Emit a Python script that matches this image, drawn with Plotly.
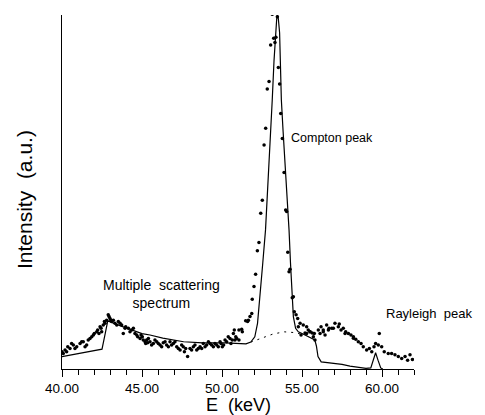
import plotly.graph_objects as go

# Measured data points (E in keV, intensity in a.u. scaled so peak ~100)
data_E = [40.0, 40.08, 40.19, 40.29, 40.36, 40.5, 40.6, 40.71, 40.81, 40.92, 41.13, 41.23, 41.33, 41.44,
          41.54, 41.64, 41.75, 41.86, 41.96, 42.02, 42.17, 42.23, 42.31, 42.38, 42.44, 42.48, 42.58, 42.65,
          42.69, 42.79, 42.89, 42.94, 43.0, 43.06, 43.1, 43.21, 43.31, 43.42, 43.52, 43.63, 43.73, 43.83,
          43.94, 43.98, 44.15, 44.25, 44.35, 44.46, 44.56, 44.67, 44.73, 44.88, 44.94, 45.02, 45.08, 45.19,
          45.23, 45.29, 45.35, 45.4, 45.5, 45.6, 45.71, 45.81, 45.92, 46.02, 46.13, 46.23, 46.33, 46.44,
          46.54, 46.65, 46.75, 46.85, 46.96, 47.06, 47.17, 47.27, 47.38, 47.48, 47.58, 47.65, 47.73, 47.85,
          48.0, 48.1, 48.21, 48.31, 48.42, 48.52, 48.63, 48.73, 48.83, 48.94, 49.04, 49.15, 49.25, 49.35,
          49.46, 49.56, 49.67, 49.77, 49.88, 49.94, 50.02, 50.1, 50.19, 50.29, 50.39, 50.5, 50.56, 50.64,
          50.71, 50.77, 50.81, 50.86, 50.92, 51.06, 51.06, 51.23, 51.27, 51.48, 51.6, 51.65, 51.75, 51.86,
          51.89, 52.0, 52.1, 52.21, 52.31, 52.42, 52.52, 52.63, 52.73, 52.83, 52.94, 53.04, 53.14, 53.23,
          53.31, 53.37, 53.46, 53.52, 53.6, 53.67, 53.77, 53.88, 53.98, 54.04, 54.11, 54.19, 54.25, 54.39,
          54.46, 54.52, 54.63, 54.73, 54.77, 54.88, 54.94, 55.08, 55.19, 55.29, 55.29, 55.39, 55.5, 55.5,
          55.64, 55.71, 55.77, 55.81, 56.02, 56.13, 56.19, 56.33, 56.33, 56.44, 56.54, 56.65, 56.69, 56.86,
          56.96, 57.06, 57.27, 57.33, 57.44, 57.58, 57.69, 57.73, 57.9, 58.06, 58.21, 58.21, 58.36, 58.52,
          58.69, 58.83, 59.04, 59.21, 59.36, 59.5, 59.6, 59.77, 59.83, 59.98, 60.14, 60.39, 60.6, 60.81,
          61.02, 61.23, 61.44, 61.6, 61.75, 61.9]
data_I = [4.9, 4.4, 5.4, 4.9, 6.3, 5.8, 7.2, 6.8, 5.8, 6.3, 7.2, 7.7, 7.7, 6.3,
          6.8, 8.2, 8.6, 9.1, 9.6, 10.0, 10.5, 11.0, 10.0, 11.9, 11.5, 10.5, 12.4, 13.4,
          12.9, 13.8, 15.3, 14.8, 14.3, 13.8, 13.4, 13.8, 12.9, 12.4, 13.4, 12.9, 12.4, 10.0,
          11.5, 11.9, 11.5, 10.5, 11.0, 11.5, 10.0, 9.6, 9.1, 8.6, 9.6, 9.1, 8.2, 7.7,
          7.2, 8.2, 7.4, 8.6, 7.7, 6.8, 7.2, 8.2, 7.7, 7.2, 6.8, 6.3, 7.4, 7.7,
          6.8, 6.3, 7.7, 6.8, 7.2, 7.7, 6.3, 5.8, 5.4, 6.8, 6.3, 4.9, 5.8, 3.5,
          5.8, 5.4, 6.3, 6.8, 5.4, 5.8, 6.3, 5.8, 7.2, 6.3, 6.8, 7.7, 7.2, 6.8,
          6.3, 7.2, 6.8, 6.3, 7.7, 7.2, 6.3, 6.8, 8.2, 7.7, 9.1, 8.6, 7.2, 8.2,
          10.0, 11.0, 8.2, 9.1, 8.6, 11.0, 8.2, 11.2, 10.5, 13.6, 13.4, 13.8, 14.8, 15.7,
          19.7, 23.3, 26.8, 33.4, 35.7, 44.0, 47.7, 63.3, 68.0, 79.1, 81.2, 91.5, 100.2, 93.4,
          92.2, 93.7, 99.5, 85.2, 80.5, 72.2, 65.1, 55.5, 44.9, 44.5, 33.0, 27.5, 28.2, 20.1,
          20.4, 16.2, 15.3, 14.3, 11.9, 12.9, 9.6, 12.4, 10.2, 11.9, 10.0, 11.0, 10.5, 10.5,
          10.2, 9.1, 10.0, 8.2, 11.0, 10.0, 11.9, 10.5, 11.0, 9.6, 12.4, 11.0, 11.5, 11.5,
          11.5, 12.9, 11.9, 12.7, 11.0, 11.5, 10.0, 10.5, 10.0, 9.6, 9.1, 8.7, 8.4, 7.7,
          7.2, 6.3, 5.4, 5.8, 4.9, 6.3, 7.2, 6.8, 10.0, 6.3, 4.9, 4.4, 4.4, 4.0,
          3.5, 3.0, 3.5, 2.5, 4.0, 2.7]

# Fitted model (solid line)
fit_E = [40.0, 42.5, 42.7, 42.8, 42.86, 43.7, 45.0, 45.5, 46.3, 47.6, 48.8, 50.2, 51.0, 51.5, 51.8,
         52.05, 52.22, 52.38, 52.55, 52.72, 52.85, 52.96, 53.05, 53.14, 53.25, 53.35, 53.42, 53.46,
         53.52, 53.6, 53.66, 53.71, 53.82, 53.94, 54.05, 54.19, 54.28, 54.36, 54.46, 54.6, 54.77,
         55.19, 55.8, 55.9, 56.0, 56.2, 56.75, 57.5, 58.0, 59.0, 59.3, 59.45, 59.6, 59.75, 59.92, 60.05]
fit_I = [3.5, 5.6, 10.0, 12.9, 13.6, 12.1, 10.0, 9.6, 8.7, 7.7, 7.4, 7.4, 7.1, 7.1, 7.6,
         9.1, 12.9, 22.3, 30.0, 39.3, 50.0, 59.0, 67.0, 76.0, 87.0, 95.0, 99.0, 100.0,
         99.0, 95.0, 86.0, 76.0, 67.0, 59.0, 50.0, 39.3, 30.0, 22.3, 14.8, 11.5, 10.5,
         9.6, 8.2, 6.5, 3.5, 2.0, 1.7, 1.3, 0.8, 0.2, 0.3, 2.5, 4.6, 2.5, 0.3, 0.0]

# Background under the Compton peak (dashed)
bg_E = [51.8, 52.5, 53.2, 53.9, 54.5, 55.19]
bg_I = [7.6, 8.8, 9.9, 10.5, 10.3, 9.6]

x_ticks = [40, 45, 50, 55, 60]
x_tick_text = ["40.00", "45.00", "50.00", "55.00", "60.00"]

FONT = "Liberation Sans"

fig = go.Figure()
fig.add_trace(go.Scatter(x=fit_E, y=fit_I, mode="lines",
                         line=dict(color="black", width=1.2), hoverinfo="skip"))
fig.add_trace(go.Scatter(x=bg_E, y=bg_I, mode="lines",
                         line=dict(color="black", width=1, dash="2px,5px"), hoverinfo="skip"))
fig.add_trace(go.Scatter(x=data_E, y=data_I, mode="markers",
                         marker=dict(color="black", size=3.5), hoverinfo="skip"))

# page body has an 8px margin, so offset plot margins accordingly
fig.update_layout(
    width=485, height=415,
    margin=dict(l=54, r=79, t=7, b=54),
    plot_bgcolor="white", paper_bgcolor="white",
    showlegend=False,
    font=dict(family=FONT, color="black"),
    xaxis=dict(range=[40, 62], showgrid=False, zeroline=False,
               showline=True, linecolor="black", linewidth=1,
               tickmode="array", tickvals=x_ticks, ticktext=x_tick_text,
               ticks="outside", ticklen=7, tickcolor="black",
               tickfont=dict(size=13.5, family=FONT),
               minor=dict(dtick=1, ticks="outside", ticklen=5, tickcolor="black")),
    yaxis=dict(range=[0, 100], showgrid=False, zeroline=False,
               showline=True, linecolor="black", linewidth=1,
               showticklabels=False, ticks=""),
)

fig.add_annotation(x=54.2, y=65.3, xref="x", yref="y", text="Compton peak", showarrow=False,
                   xanchor="left", yanchor="middle", font=dict(size=12.5, family=FONT))
fig.add_annotation(x=46.2, y=21.2, xref="x", yref="y", text="Multiple  scattering<br>spectrum",
                   showarrow=False, xanchor="center", yanchor="middle",
                   font=dict(size=14, family=FONT))
fig.add_annotation(x=60.1, y=15.8, xref="x", yref="y", text="Rayleigh  peak", showarrow=False,
                   xanchor="left", yanchor="middle", font=dict(size=13, family=FONT))
fig.add_annotation(x=(238 - 62) / 352, y=-(404.5 - 369) / 354, xref="paper", yref="paper",
                   text="E  (keV)", showarrow=False, xanchor="center", yanchor="middle",
                   font=dict(size=18, family=FONT))
fig.add_annotation(x=-(62 - 24) / 352, y=(369 - 200) / 354, xref="paper", yref="paper",
                   text="Intensity  (a.u.)", textangle=-90, showarrow=False,
                   xanchor="center", yanchor="middle",
                   font=dict(size=21, family=FONT))

fig.write_html("out.html")
